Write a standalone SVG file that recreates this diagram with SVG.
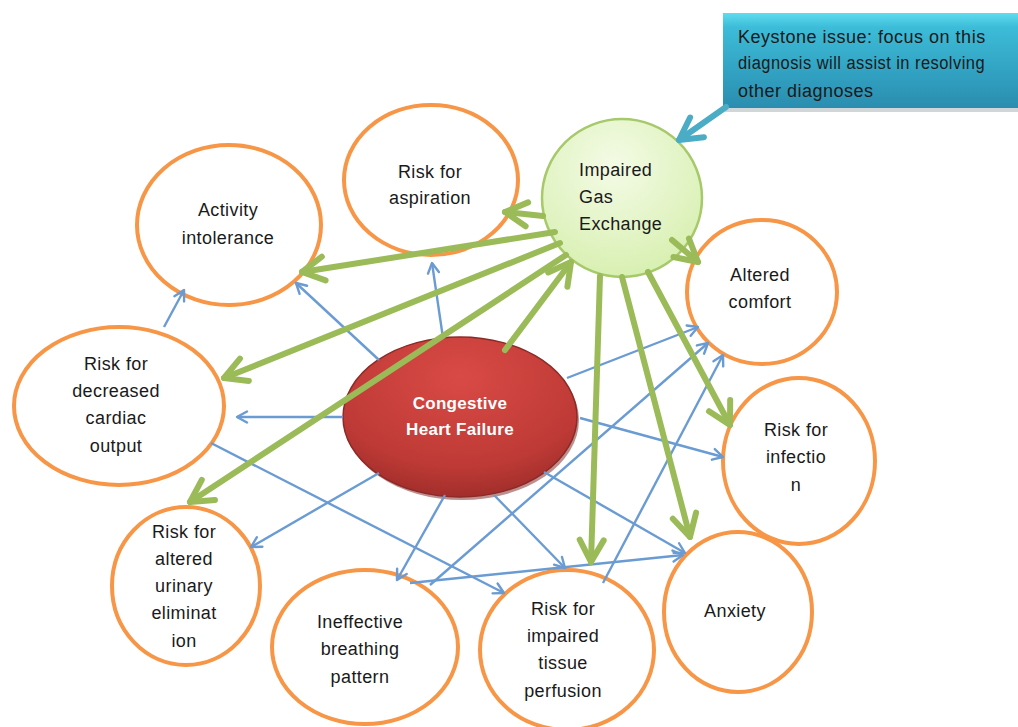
<svg xmlns="http://www.w3.org/2000/svg" width="1018" height="727" viewBox="0 0 1018 727">
<defs>
<linearGradient id="gKey" x1="0" y1="0" x2="0" y2="1">
<stop offset="0" stop-color="#5fdcef"/><stop offset="0.15" stop-color="#3cbcd8"/><stop offset="1" stop-color="#2a8db0"/>
</linearGradient>
<radialGradient id="gIGE" cx="0.45" cy="0.3" r="0.75">
<stop offset="0" stop-color="#f4fbe6"/><stop offset="1" stop-color="#d6efae"/>
</radialGradient>
<radialGradient id="gCHF" cx="0.5" cy="0.25" r="0.8">
<stop offset="0" stop-color="#d94a45"/><stop offset="0.7" stop-color="#be3a36"/><stop offset="1" stop-color="#9a2b28"/>
</radialGradient>
<marker id="mb" viewBox="0 0 14 14" refX="12" refY="7" markerWidth="14" markerHeight="14" markerUnits="userSpaceOnUse" orient="auto">
<path d="M2,1.5 L12,7 L2,12.5" fill="none" stroke="#6a9bd3" stroke-width="2.4" stroke-linecap="round" stroke-linejoin="round"/>
</marker>
<marker id="mg" viewBox="0 0 32 32" refX="28" refY="16" markerWidth="32" markerHeight="32" markerUnits="userSpaceOnUse" orient="auto">
<path d="M6,4 L28,16 L6,28" fill="none" stroke="#9bbb59" stroke-width="6" stroke-linecap="round" stroke-linejoin="round"/>
</marker>
<marker id="mt" viewBox="0 0 32 32" refX="28" refY="16" markerWidth="32" markerHeight="32" markerUnits="userSpaceOnUse" orient="auto">
<path d="M6,4 L28,16 L6,28" fill="none" stroke="#4bacc6" stroke-width="6" stroke-linecap="round" stroke-linejoin="round"/>
</marker>
</defs>
<style>
.n{fill:#ffffff;stroke:#f79646;stroke-width:4}
.t{font-family:"Liberation Sans",Arial,sans-serif;font-size:18px;letter-spacing:0.4px;fill:#1a1a1a;text-anchor:middle}
.w{font-family:"Liberation Sans",Arial,sans-serif;font-size:17px;font-weight:bold;letter-spacing:0.3px;fill:#ffffff;text-anchor:middle}
.k{font-family:"Liberation Sans",Arial,sans-serif;font-size:18px;letter-spacing:0.5px;fill:#1a1a1a}
.b{fill:none;stroke:#6a9bd3;stroke-width:2.4;marker-end:url(#mb)}
.g{fill:none;stroke:#9bbb59;stroke-width:6;stroke-linecap:round;marker-end:url(#mg)}
</style>
<rect width="1018" height="727" fill="#ffffff"/>

<g id="keystone">
<rect x="725" y="17" width="300" height="95" fill="#7a8a90" opacity="0.35"/>
<rect x="723" y="13" width="300" height="95" fill="url(#gKey)"/>
<text class="k" x="738" y="43">Keystone issue: focus on this</text>
<text class="k" x="738" y="69" textLength="247" lengthAdjust="spacingAndGlyphs">diagnosis will assist in resolving</text>
<text class="k" x="738" y="97">other diagnoses</text>
</g>

<g id="activity"><ellipse class="n" cx="229" cy="225" rx="92" ry="80"/><text class="t" x="228" y="216">Activity</text><text class="t" x="228" y="244">intolerance</text></g>
<g id="aspiration"><ellipse class="n" cx="431" cy="180" rx="87" ry="75"/><text class="t" x="430" y="178">Risk for</text><text class="t" x="430" y="204">aspiration</text></g>
<g id="comfort"><ellipse class="n" cx="762" cy="292" rx="75" ry="72"/><text class="t" x="760" y="281">Altered</text><text class="t" x="760" y="308">comfort</text></g>
<g id="infection"><ellipse class="n" cx="799" cy="461" rx="76" ry="83"/><text class="t" x="796" y="436">Risk for</text><text class="t" x="796" y="463">infectio</text><text class="t" x="796" y="491">n</text></g>
<g id="anxiety"><ellipse class="n" cx="738" cy="612" rx="74" ry="80"/><text class="t" x="735" y="617">Anxiety</text></g>
<g id="tissue"><ellipse class="n" cx="567" cy="650" rx="87" ry="80"/><text class="t" x="563" y="615">Risk for</text><text class="t" x="563" y="642">impaired</text><text class="t" x="563" y="669">tissue</text><text class="t" x="563" y="697">perfusion</text></g>
<g id="breathing"><ellipse class="n" cx="365" cy="647" rx="93" ry="77"/><text class="t" x="360" y="628">Ineffective</text><text class="t" x="360" y="655">breathing</text><text class="t" x="360" y="683">pattern</text></g>
<g id="urinary"><ellipse class="n" cx="186" cy="586" rx="74" ry="79"/><text class="t" x="184" y="538">Risk for</text><text class="t" x="184" y="565">altered</text><text class="t" x="184" y="592">urinary</text><text class="t" x="184" y="619">eliminat</text><text class="t" x="184" y="647">ion</text></g>
<g id="cardiac"><ellipse class="n" cx="119" cy="406" rx="105" ry="79"/><text class="t" x="116" y="370">Risk for</text><text class="t" x="116" y="397">decreased</text><text class="t" x="116" y="424">cardiac</text><text class="t" x="116" y="452">output</text></g>
<g id="chf"><ellipse cx="462" cy="420" rx="117" ry="80" fill="#7a2220" opacity="0.5"/><ellipse cx="460" cy="417" rx="117" ry="80" fill="url(#gCHF)" stroke="#8c2a27" stroke-width="1.5"/><text class="w" x="460" y="409">Congestive</text><text class="w" x="460" y="435">Heart Failure</text></g>
<g id="ige"><ellipse cx="622" cy="198" rx="80" ry="79" fill="url(#gIGE)" stroke="#a6c96a" stroke-width="2.5"/><text class="t" x="579" y="176" style="text-anchor:start">Impaired</text><text class="t" x="579" y="203" style="text-anchor:start">Gas</text><text class="t" x="579" y="230" style="text-anchor:start">Exchange</text></g>

<g id="connectors">
<line class="b" x1="379" y1="360" x2="296" y2="283"/>
<line class="b" x1="443" y1="338" x2="432" y2="263"/>
<line class="b" x1="164" y1="327" x2="184" y2="290"/>
<line class="b" x1="343" y1="417" x2="237" y2="417"/>
<line class="b" x1="211" y1="443" x2="504" y2="593"/>
<line class="b" x1="379" y1="473" x2="251" y2="547"/>
<line class="b" x1="445" y1="495" x2="397" y2="580"/>
<line class="b" x1="494" y1="495" x2="565" y2="568"/>
<line class="b" x1="544" y1="472" x2="685" y2="553"/>
<line class="b" x1="410" y1="583" x2="683" y2="555"/>
<line class="b" x1="567" y1="378" x2="698" y2="327"/>
<line class="b" x1="430" y1="585" x2="708" y2="343"/>
<line class="b" x1="603" y1="583" x2="723" y2="355"/>
<line class="b" x1="580" y1="418" x2="723" y2="457"/>
<line class="g" x1="543" y1="216" x2="505" y2="212"/>
<line class="g" x1="555" y1="232" x2="302" y2="272"/>
<line class="g" x1="560" y1="243" x2="224" y2="378"/>
<line class="g" x1="566" y1="255" x2="190" y2="502"/>
<line class="g" x1="505" y1="350" x2="571" y2="262"/>
<line class="g" x1="672" y1="240" x2="698" y2="262"/>
<line class="g" x1="600" y1="276" x2="591" y2="562"/>
<line class="g" x1="622" y1="277" x2="690" y2="537"/>
<line class="g" x1="648" y1="272" x2="730" y2="425"/>
<line x1="726" y1="107" x2="679" y2="140" stroke="#4bacc6" stroke-width="6" stroke-linecap="round" marker-end="url(#mt)"/>
</g>
</svg>
